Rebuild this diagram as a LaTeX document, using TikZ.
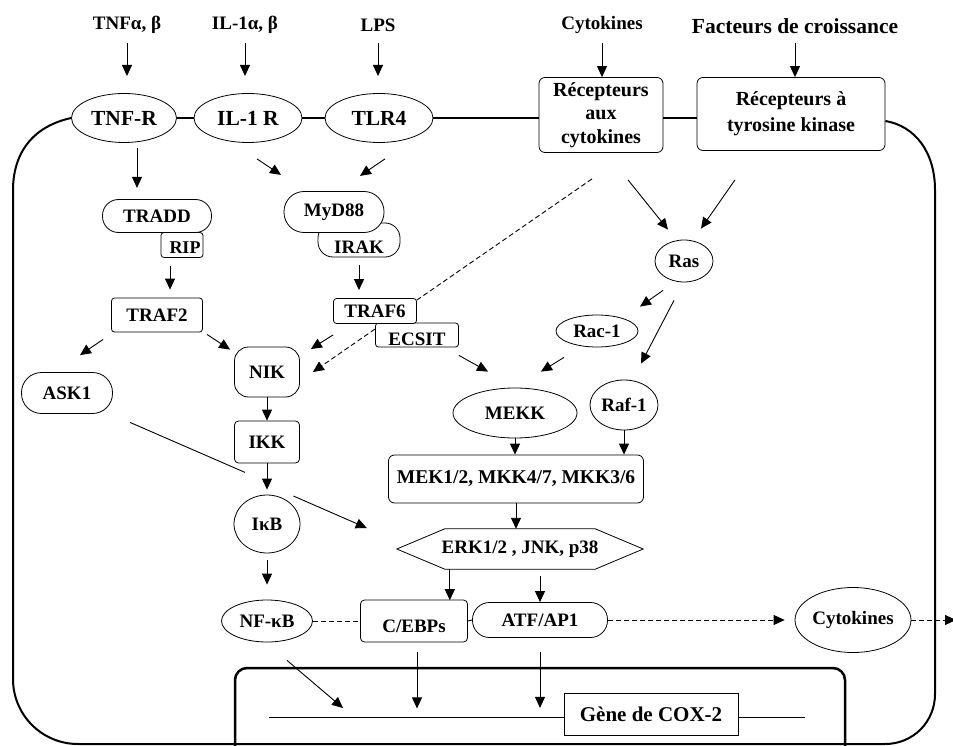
\documentclass[tikz,border=0pt]{standalone}
\usepackage{fontspec}
\setmainfont{Liberation Serif}
\usetikzlibrary{arrows.meta,calc,shapes.geometric}
\pgfdeclarelayer{bg}
\pgfsetlayers{bg,main}
\newcommand\lowtxt[2]{\raisebox{-#1}[0pt][0pt]{#2}}
\begin{document}
\begin{tikzpicture}[x=1pt,y=-1pt,
  every node/.style={font=\bfseries\fontsize{19}{22}\selectfont, inner sep=0pt, align=center},
  ell/.style={draw, ellipse, fill=white, line width=0.8pt},
  pill/.style={draw, rectangle, rounded corners=#1, fill=white, line width=0.8pt},
  pill/.default=16pt,
  bx/.style={draw, rectangle, rounded corners=3pt, fill=white, line width=0.8pt},
  arr/.style={-{Triangle[length=11pt,width=10pt]}, line width=0.9pt},
  dsh/.style={dash pattern=on 5pt off 3pt, line width=0.9pt},
  mem/.style={line width=2pt},
  sz/.style 2 args={minimum width=#1, minimum height=#2},
  big/.style={font=\bfseries\fontsize{21.5}{24}\selectfont}
]
\begin{pgfonlayer}{bg}
\fill[white] (0,0) rectangle (953,746);
\end{pgfonlayer}
\useasboundingbox (0,0) rectangle (953,746);

% top labels
\node (tTNF) at (127,25) {TNFα, β};
\node (tIL) at (245,25) {IL-1α, β};
\node (tLPS) at (378,25) {LPS};
\node (tCyt) at (602,25) {Cytokines};
\node[font=\bfseries\fontsize{21.5}{24}\selectfont] (tFac) at (795,26) {Facteurs de croissance};

% receptors
\node[ell, big, sz={105pt}{49pt}] (TNFR) at (124,118) {TNF-R};
\node[ell, big, sz={108pt}{49pt}] (IL1R) at (248,118) {IL-1 R};
\node[ell, big, sz={108pt}{49pt}] (TLR4) at (379,118) {TLR4};
\node[bx, rounded corners=6pt, sz={124pt}{75pt}, font=\bfseries\fontsize{20}{23.5}\selectfont] (RecC) at (601,115) {Récepteurs\\aux\\cytokines};
\node[bx, rounded corners=6pt, sz={188pt}{73pt}, font=\bfseries\fontsize{20}{26}\selectfont] (RecT) at (791,114) {Récepteurs à\\tyrosine kinase};

% membrane
\draw[mem] (TNFR.east) -- (IL1R.west);
\draw[mem] (IL1R.east) -- (TLR4.west);
\draw[mem] (TLR4.east) -- (TLR4.east -| RecC.west);
\draw[mem] (RecC.east |- TLR4.east) -- (RecT.west |- TLR4.east);
\draw[mem] (TNFR.west) .. controls (35,126) and (14,150) .. (13,188) -- (13,679)
  .. controls (13,715) and (42,744) .. (78,744) -- (885,744)
  .. controls (913,744) and (935,722) .. (935,694) -- (935,190)
  .. controls (935,152) and (915,126) .. ($(RecT.east)+(0,7)$);

% top arrows
\draw[arr] (tTNF |- 0,43) -- (tTNF |- 0,76);
\draw[arr] (tIL |- 0,43) -- (tIL |- 0,76);
\draw[arr] (tLPS |- 0,43) -- (tLPS |- 0,76);
\draw[arr] (tCyt |- 0,43) -- (tCyt |- RecC.north);
\draw[arr] (tFac |- 0,43) -- (tFac |- RecT.north);

% left cascade
\node[bx, sz={42pt}{25pt}, font=\bfseries\fontsize{18}{20}\selectfont] (RIP) at (182,245) {\hspace*{6pt}\lowtxt{9pt}{RIP}};
\node[pill=16pt, sz={109pt}{33pt}] (TRADD) at (157,216) {TRADD};
\node[bx, sz={91pt}{34pt}] (TRAF2) at (157,315) {TRAF2};
\node[pill=15pt, sz={82pt}{34pt}] (IRAK) at (359,240) {\lowtxt{14pt}{IRAK}};
\node[pill=20pt, sz={100pt}{41pt}] (MyD88) at (334,212) {MyD88};
\node[bx, sz={83pt}{24pt}] (ECSIT) at (417,335) {\lowtxt{10pt}{ECSIT}};
\node[bx, sz={83pt}{25pt}] (TRAF6) at (375,311) {TRAF6};
\node[pill=20pt, sz={91pt}{41pt}] (ASK1) at (67,393) {ASK1};
\node[bx, rounded corners=14pt, sz={65pt}{50pt}] (NIK) at (267,372) {NIK};
\node[bx, rounded corners=4pt, sz={65pt}{42pt}] (IKK) at (267,442) {IKK};
\node[ell, sz={66pt}{58pt}] (IkB) at (267,524) {IκB};
\node[ell, sz={91pt}{42pt}] (NFkB) at (267,621) {NF-κB};

% right cascade
\node[ell, sz={58pt}{42pt}] (Ras) at (684,261) {Ras};
\node[ell, sz={82pt}{32pt}] (Rac1) at (597,331) {Rac-1};
\node[ell, sz={124pt}{50pt}] (MEKK) at (515,413) {MEKK};
\node[ell, sz={68pt}{50pt}] (Raf1) at (624,405) {Raf-1};
\node[bx, rounded corners=6pt, sz={255pt}{48pt}, font=\bfseries\fontsize{19.5}{22}\selectfont] (MEK) at (516,479) {MEK1/2, MKK4/7, MKK3/6};
\node[sz={246pt}{40pt}] (ERK) at (520,549) {ERK1/2 , JNK, p38};
\draw[line width=0.8pt] (ERK.west) -- ($(ERK.north west)+(48,0)$) -- ($(ERK.north east)+(-48,0)$)
  -- (ERK.east) -- ($(ERK.south east)+(-48,0)$) -- ($(ERK.south west)+(48,0)$) -- cycle;
\node[bx, rounded corners=4pt, sz={107pt}{42pt}] (CEBP) at (414,621) {\lowtxt{11pt}{C/EBPs}};
\node[pill=17pt, sz={135pt}{35pt}] (ATF) at (540,620) {ATF/AP1};
\node[ell, sz={116pt}{65pt}] (CytO) at (853,620) {Cytokines};

% nucleus
\draw[line width=2.5pt, rounded corners=12pt] (235,755) -- (235,668) -- (845,668) -- (845,755);
\coordinate (g1) at (269,717);
\coordinate (g2) at (805,717);
\coordinate (out) at (956,620);
\node[draw, rectangle, fill=white, line width=0.9pt, sz={174pt}{42pt}, font=\bfseries\fontsize{21}{24}\selectfont] (Gene) at (651,714) {Gène de COX-2};
\draw[line width=0.9pt] (g1) -- (g1 -| Gene.west);
\draw[line width=0.6pt] (g2 -| Gene.east) -- (g2);

% connectors
\draw[arr] ($(TNFR.south)+(13,5)$) -- ($(TNFR.south)+(13,45)$);
\draw[arr] ($(IL1R.south)+(9,16)$) -- ($(IL1R.south)+(33,32)$);
\draw[arr] ($(TLR4.south)+(6,16)$) -- ($(TLR4.south)+(-19,33)$);
\draw[arr] ($(RecC.south)+(27,27)$) -- ($(Ras.north)+(-16,-10)$);
\draw[arr] ($(RecT.south)+(-56,29)$) -- ($(Ras.north)+(17,-11)$);
\draw[arr] ($(RIP.south)+(-12,8)$) -- ($(TRAF2.north)+(13,-8)$);
\draw[arr] ($(IRAK.south)+(0,8)$) -- ($(TRAF6.north)+(-16,-8)$);
\draw[arr] ($(TRAF2.south west)+(-8,7)$) -- ($(ASK1.north)+(13,-17)$);
\draw[arr] ($(TRAF2.south east)+(4,2)$) -- ($(NIK.north west)+(-4,3)$);
\draw[arr] ($(TRAF6.south west)+(0,11)$) -- ($(NIK.east)+(11,-23)$);
\begin{pgfonlayer}{bg}
\draw[dsh, -{Triangle[length=11pt,width=10pt]}] ($(RecC.south)+(-9,26)$) -- ($(NIK.east)+(13,0)$);
\end{pgfonlayer}
\draw[arr] ($(ECSIT.south east)+(0,8)$) -- ($(MEKK.north)+(-27,-16)$);
\draw[arr] ($(Ras.south)+(-21,8)$) -- ($(Rac1.north)+(43,-8)$);
\draw[arr] ($(Ras.south)+(-10,18)$) -- ($(Raf1.north)+(17,-16)$);
\draw[arr] ($(Rac1.south)+(-33,10)$) -- ($(MEKK.north)+(26,-16)$);
\draw[arr] (MEKK.south) -- (MEKK.south |- MEK.north);
\draw[arr] (Raf1.south) -- (Raf1.south |- MEK.north);
\draw[arr] (MEK.south) -- (MEK.south |- ERK.north);
\draw[arr] ($(ERK.south west)+(53,0)$) -- ($(ERK.south west)+(53,31)$);
\draw[arr] ($(ATF.north)+(0,-26)$) -- (ATF.north);
\draw[arr] (NIK.south) -- (IKK.north);
\draw[arr] (IKK.south) -- ($(IkB.north)+(0,-5)$);
\draw[arr] ($(IkB.south)+(0,7)$) -- ($(NFkB.north)+(0,-15)$);
\draw[line width=0.9pt] ($(ASK1.south)+(63,8.5)$) -- ($(IKK.south)+(-22,9)$);
\draw[arr] ($(IkB.east)+(-7,-28)$) -- ($(ERK.west)+(-30,-21)$);
\draw[dsh] (NFkB.east) -- (CEBP.west);
\draw[dsh] (CEBP.east) -- (ATF.west);
\draw[dsh, -{Triangle[length=11pt,width=10pt]}] (ATF.east) -- ($(CytO.west)+(-10,0)$);
\draw[dsh, -{Triangle[length=11pt,width=10pt]}] (CytO.east) -- (out);
\draw[arr] ($(NFkB.south)+(20,18)$) -- ($(g1)+(74,-9)$);
\draw[arr] ($(CEBP.south)+(3,10)$) -- ($(CEBP.south)+(3,66)$);
\draw[arr] ($(ATF.south)+(0,14)$) -- ($(ATF.south)+(0,70)$);
\end{tikzpicture}
\end{document}
